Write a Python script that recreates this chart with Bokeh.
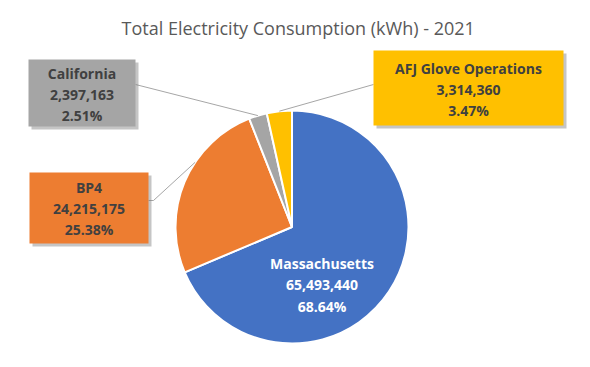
import math
from bokeh.plotting import figure
from bokeh.models import Range1d
from bokeh.core.properties import value
from bokeh.embed import file_html
from bokeh.resources import INLINE

# ---- data ----
names = ["Massachusetts", "BP4", "California", "AFJ Glove Operations"]
kwh = [65493440, 24215175, 2397163, 3314360]
pct_labels = ["68.64%", "25.38%", "2.51%", "3.47%"]
colors = ["#4472C4", "#ED7D31", "#A5A5A5", "#FFC000"]
title_text = "Total Electricity Consumption  (kWh) - 2021"

W, H = 574, 351
p = figure(width=W, height=H, output_backend="svg", toolbar_location=None,
           x_range=Range1d(0, W), y_range=Range1d(367 - H, 367),
           min_border=0)
p.axis.visible = False
p.grid.visible = False
p.outline_line_color = None
p.background_fill_color = "white"

def Y(py):
    return 367 - py

# pie
cx, cy, r = 291.5, Y(226.5), 116.5
total = sum(kwh)
starts, ends = [], []
cum = 0.0
for v in kwh:
    starts.append(math.pi / 2 - 2 * math.pi * cum / total)
    cum += v
    ends.append(math.pi / 2 - 2 * math.pi * cum / total)
p.wedge(x=[cx] * len(kwh), y=[cy] * len(kwh), radius=r,
        start_angle=starts, end_angle=ends, direction="clock",
        fill_color=colors, line_color="white", line_width=2)

def edge_point(i, frac=0.5, rr=1.0):
    a = starts[i] + (ends[i] - starts[i]) * frac
    return cx + r * rr * math.cos(a), cy + r * rr * math.sin(a)

# California leader
ex, ey = edge_point(2, 0.5, 1.0)
p.segment(x0=[135], y0=[Y(84)], x1=[ex], y1=[ey], line_color="#A6A6A6", line_width=1)
# AFJ leader
ex2, ey2 = edge_point(3, 0.5, 1.0)
p.segment(x0=[373], y0=[Y(84)], x1=[ex2], y1=[ey2], line_color="#A6A6A6", line_width=1)
# BP4 leader
ex3, ey3 = edge_point(1, 0.62, 1.0)
p.segment(x0=[148, 153], y0=[Y(200), Y(200)], x1=[153, ex3], y1=[Y(200), ey3],
          line_color="#A6A6A6", line_width=1)

# label boxes: (left, top, right, bottom) in pixels
boxes = {
    2: (28, 59, 135, 126),
    1: (29, 172, 148, 243),
    3: (373, 50, 563, 125),
}
for i, (l, t, rr_, b) in boxes.items():
    p.quad(left=[l + 3], right=[rr_ + 3], top=[Y(t + 3)], bottom=[Y(b + 3)],
           fill_color="#7F7F7F", fill_alpha=0.45, line_color=None)
    p.quad(left=[l], right=[rr_], top=[Y(t)], bottom=[Y(b)],
           fill_color=colors[i], line_color=None)

def fmt(v):
    return f"{v:,}"

label_pos = {
    0: (321.5, [263, 284, 306], "white"),
    2: (81.5, [73, 94, 115], "#404040"),
    1: (88.5, [187, 208, 229], "#404040"),
    3: (468, [68, 89, 110], "#404040"),
}
for i, (x, ys, col) in label_pos.items():
    lines = [names[i], fmt(kwh[i]), pct_labels[i]]
    p.text(x=[x] * 3, y=[Y(yy) for yy in ys], text=lines,
           text_font=value("Open Sans"), text_font_style="bold",
           text_font_size="14px", text_color=col,
           text_align="center", text_baseline="middle")

# title
p.text(x=[300], y=[Y(27)], text=[title_text], text_font=value("Open Sans"),
       text_font_size="18px", text_color="#595959",
       text_align="center", text_baseline="middle")

open("out.html", "w").write(file_html(p, INLINE))
